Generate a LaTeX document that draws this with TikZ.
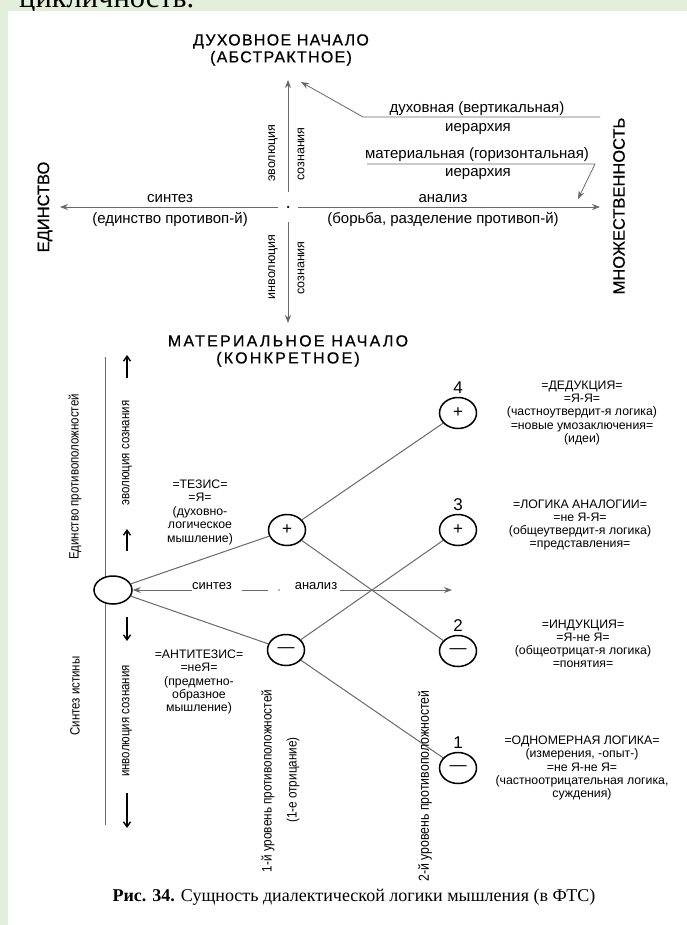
\documentclass[tikz,border=0pt]{standalone}
\usepackage{fontspec}
\setmainfont{Liberation Sans}
\newfontfamily\narrowg[FakeStretch=0.85]{Liberation Sans}
\newfontfamily\capsa[LetterSpace=8,FakeBold=0.6]{Liberation Sans}
\newfontfamily\capsb[LetterSpace=14,FakeBold=0.6]{Liberation Sans}
\newfontfamily\capsv[FakeBold=0.4]{Liberation Sans}
\newfontfamily\seriff{Liberation Serif}
\usetikzlibrary{arrows.meta,shapes.geometric}
\definecolor{bggreen}{RGB}{227,239,218}
\definecolor{lgray}{RGB}{105,105,105}
\tikzset{
  uptxt/.style={font=\fontsize{15}{17}\selectfont, inner sep=0pt, align=center},
  upv/.style={font=\fontsize{12.5}{14}\selectfont, inner sep=0pt, rotate=90},
  lowtxt/.style={font=\narrowg\fontsize{13.5}{15}\selectfont, inner sep=0pt, rotate=90},
  hlab/.style={font=\fontsize{13}{15}\selectfont, inner sep=0pt, anchor=base},
  blk/.style={font=\fontsize{12.3}{13.5}\selectfont, inner sep=0pt, align=center},
  rblk/.style={font=\fontsize{12.3}{13.2}\selectfont, inner sep=0pt, align=center},
  capa/.style={font=\capsa\fontsize{16}{16}\selectfont, inner sep=0pt, align=center},
  capb/.style={font=\capsb\fontsize{16}{16}\selectfont, inner sep=0pt, align=center},
  capv/.style={font=\capsv\fontsize{16.5}{18}\selectfont, inner sep=0pt, rotate=90},
  numtxt/.style={font=\fontsize{17}{18}\selectfont, inner sep=0pt},
  axis/.style={draw=lgray, line width=0.8pt},
  conn/.style={draw=lgray, line width=1pt},
  tip/.style={-{Stealth[length=8pt,width=6pt]}},
  circ/.style={ellipse, draw=black, line width=1.5pt, minimum width=37pt, minimum height=31pt, inner sep=0pt, font=\fontsize{17}{18}\selectfont, fill=white},
  root/.style={ellipse, draw=black, line width=1.5pt, minimum width=38pt, minimum height=28pt, inner sep=0pt, fill=white},
  vtip/.style={-{Straight Barb[length=5pt,width=7pt]}, line width=1.4pt, black},
}
\begin{document}
\begin{tikzpicture}[x=1pt,y=-1pt]
\useasboundingbox (0,0) rectangle (687,925);
\fill[bggreen] (0,0) rectangle (687,925);
\fill[white] (8,11) rectangle (687,925);
\begin{scope}
\clip (0,0) rectangle (687,11);
\node[anchor=base west, font=\seriff\fontsize{30.5}{32}\selectfont, inner sep=0pt] (topword) at (19,8) {цикличность.};
\end{scope}
% ---------- upper diagram ----------
\node[capa] (spirit) at (281,50) {ДУХОВНОЕ НАЧАЛО\\[1pt](АБСТРАКТНОЕ)};
\node[capb] (matter) at (288,351) {МАТЕРИАЛЬНОЕ НАЧАЛО\\[1pt](КОНКРЕТНОЕ)};
\node[capv] (unity) at (45,207) {ЕДИНСТВО};
\node[capv] (many) at (619,206) {МНОЖЕСТВЕННОСТЬ};

\node[circle, fill=black, inner sep=0pt, minimum size=2.5pt] (ctr) at (288,207) {};
\coordinate (vtop) at (288,80);
\coordinate (vtopS) at (288,192);
\coordinate (vbotS) at (288,222);
\coordinate (vbot) at (288,323);
\coordinate (hleft) at (60,207);
\coordinate (hleftS) at (278,207);
\coordinate (hrightS) at (298,207);
\coordinate (hright) at (600,207);
\draw[axis,tip] (vtopS) -- (vtop);
\draw[axis,tip] (vbotS) -- (vbot);
\draw[axis,tip] (hleftS) -- (hleft);
\draw[axis,tip] (hrightS) -- (hright);

\node[uptxt] (synt) at (170,199) {синтез};
\node[uptxt] (synt2) at (170,219) {(единство противоп-й)};
\node[uptxt] (anal) at (443,199) {анализ};
\node[uptxt] (anal2) at (443,219) {(борьба, разделение противоп-й)};
\node[upv] (evo) at (273,153) {эволюция};
\node[upv] (evo2) at (301,154) {сознания};
\node[upv] (inv) at (273,267) {инволюция};
\node[upv] (inv2) at (301,268) {сознания};

\node[uptxt] (spv) at (477,109) {духовная (вертикальная)};
\node[uptxt] (spv2) at (478,129) {иерархия};
\node[uptxt] (mth) at (477,155) {материальная (горизонтальная)};
\node[uptxt] (mth2) at (478,174) {иерархия};
\coordinate (sp1) at (600,117);
\coordinate (sp2) at (363,117);
\coordinate (sptip) at (301,82);
\draw[axis,tip] (sp1) -- (sp2) -- (sptip);
\coordinate (mt1) at (367,164);
\coordinate (mt2) at (595,164);
\coordinate (mttip) at (578,199);
\draw[axis,tip] (mt1) -- (mt2) -- (mttip);

% ---------- lower diagram ----------
\coordinate (lvt) at (105,357);
\coordinate (lvb) at (105,825);
\draw[axis] (lvt) -- (lvb);

\node[root] (O) at (113,590) {};
\node[hlab] (lsyn) at (212,589) {синтез};
\node[hlab] (lan) at (316,589) {анализ};
\coordinate (hsR) at (452,590);
\coordinate (dsh1) at (242,590);
\coordinate (dsh2) at (268,590);
\node[circle, fill=lgray, inner sep=0pt, minimum size=1.8pt] (hdot) at (279,590) {};
\draw[conn, {Stealth[length=8pt,width=6pt]}-] (O) -- (lsyn.west |- O);
\draw[conn] (dsh1) -- (dsh2);
\draw[conn, -{Stealth[length=8pt,width=6pt]}] ([xshift=3pt]lan.east |- O) -- (hsR);

\node[circ] (T) at (287,530) {+};
\node[circ] (A) at (286,650) {—};
\node[circ] (n4) at (458,413) {+};
\node[circ] (n3) at (458,530) {+};
\node[circ] (n2) at (458,651) {—};
\node[circ] (n1) at (458,768) {—};
\node[numtxt] (l4) at (458,388) {4};
\node[numtxt] (l3) at (458,505) {3};
\node[numtxt] (l2) at (458,626) {2};
\node[numtxt] (l1) at (458,743) {1};

\draw[conn] (O) -- (T);
\draw[conn] (O) -- (A);
\draw[conn] (T) -- (n4);
\draw[conn] (T) -- (n2);
\draw[conn] (A) -- (n3);
\draw[conn] (A) -- (n1);

\node[lowtxt] (unop) at (75,477) {Единство противоположностей};
\node[lowtxt] (syntr) at (75,696) {Синтез истины};
\node[lowtxt] (evol) at (127,453) {эволюция сознания};
\node[lowtxt] (invol) at (127,721) {инволюция сознания};
\coordinate (ua1) at (127,378);
\coordinate (ua1t) at (127,355);
\coordinate (ua2) at (127,551);
\coordinate (ua2t) at (127,529);
\coordinate (da1) at (127,617);
\coordinate (da1t) at (127,641);
\coordinate (da2) at (127,793);
\coordinate (da2t) at (127,828);
\draw[vtip] (ua1) -- (ua1t);
\draw[vtip] (ua2) -- (ua2t);
\draw[vtip] (da1) -- (da1t);
\draw[vtip] (da2) -- (da2t);

\node[blk] (thes) at (200,512) {=ТЕЗИС=\\=Я=\\(духовно-\\логическое\\мышление)};
\node[blk, font=\fontsize{12.3}{13.2}\selectfont] (anti) at (199,682) {=АНТИТЕЗИС=\\=неЯ=\\(предметно-\\образное\\мышление)};

\node[lowtxt, font=\narrowg\fontsize{13.8}{15}\selectfont] (lev1) at (268,781) {1-й уровень противоположностей};
\node[lowtxt, font=\narrowg\fontsize{13.8}{15}\selectfont] (lev1b) at (293,780) {(1-е отрицание)};
\node[lowtxt, font=\narrowg\fontsize{14.5}{15}\selectfont] (lev2) at (425,786) {2-й уровень противоположностей};

\node[rblk] (b4) at (582,413) {=ДЕДУКЦИЯ=\\=Я-Я=\\(частноутвердит-я логика)\\=новые умозаключения=\\(идеи)};
\node[rblk] (b3) at (580,525) {=ЛОГИКА АНАЛОГИИ=\\=не Я-Я=\\(общеутвердит-я логика)\\=представления=};
\node[rblk] (b2) at (583,644) {=ИНДУКЦИЯ=\\=Я-не Я=\\(общеотрицат-я логика)\\=понятия=};
\node[rblk] (b1) at (582,768) {=ОДНОМЕРНАЯ ЛОГИКА=\\(измерения, -опыт-)\\=не Я-не Я=\\(частноотрицательная логика,\\суждения)};

\node[font=\seriff\fontsize{18}{20}\selectfont, inner sep=0pt] (cap) at (354,897) {\textbf{Рис. 34.} Сущность диалектической логики мышления (в ФТС)};
\end{tikzpicture}
\end{document}
